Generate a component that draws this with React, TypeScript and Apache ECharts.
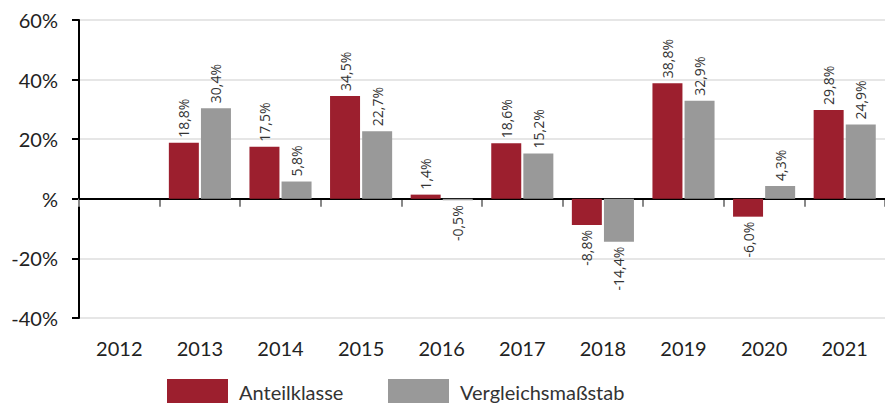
import React, { useEffect, useRef } from "react";
import * as echarts from "echarts";

const years = ["2012", "2013", "2014", "2015", "2016", "2017", "2018", "2019", "2020", "2021"];
const anteilklasse: (number | null)[] = [null, 18.8, 17.5, 34.5, 1.4, 18.6, -8.8, 38.8, -6.0, 29.8];
const vergleich: (number | null)[] = [null, 30.4, 5.8, 22.7, -0.5, 15.2, -14.4, 32.9, 4.3, 24.9];
const seriesNames = ["Anteilklasse", "Vergleichsmaßstab"];
const colors = ["#9c1f2e", "#999999"];

const fmt = (v: number) => v.toFixed(1).replace(".", ",") + "%";

function toData(arr: (number | null)[]) {
  return arr.map((v) => {
    if (v === null) return { value: null };
    if (v < 0) {
      return { value: v, label: { position: "bottom", align: "right" } };
    }
    return { value: v };
  });
}

export default function App() {
  const ref = useRef<HTMLDivElement>(null);
  useEffect(() => {
    if (!ref.current) return;
    const chart = echarts.init(ref.current, undefined, { renderer: "svg" });
    const labelCfg = {
      show: true,
      position: "top",
      rotate: 90,
      align: "left",
      verticalAlign: "middle",
      distance: 5,
      fontFamily: "Open Sans",
      fontSize: 14,
      color: "#333",
      formatter: (p: any) => (p.value === null || p.value === undefined ? "" : fmt(p.value)),
    };
    const legendBase = {
      top: 379,
      padding: 0,
      icon: "rect",
      itemWidth: 61,
      itemHeight: 26,
      itemGap: 0,
      textStyle: { fontFamily: "Lato", fontSize: 20, color: "#333", padding: [0, 0, 0, 6] },
    };
    chart.setOption({
      animation: false,
      textStyle: { fontFamily: "Lato" },
      grid: { left: 79, right: -4, top: 20, bottom: 85, containLabel: false },
      legend: [
        { ...legendBase, data: [seriesNames[0]], left: 167 },
        { ...legendBase, data: [seriesNames[1]], left: 388 },
      ],
      xAxis: {
        type: "category",
        data: years,
        boundaryGap: true,
        axisLine: { show: true, lineStyle: { color: "#888", width: 2 } },
        axisTick: { show: true, interval: 0, length: 8, lineStyle: { color: "#888", width: 2 } },
        axisLabel: { interval: 0, margin: 20, fontFamily: "Lato", fontSize: 20, color: "#222" },
        splitLine: { show: false },
      },
      yAxis: {
        type: "value",
        min: -40,
        max: 60,
        interval: 20,
        axisLine: { show: true, lineStyle: { color: "#000", width: 2 } },
        axisTick: { show: true, length: 7, lineStyle: { color: "#000", width: 2 } },
        axisLabel: {
          margin: 21,
          fontFamily: "Lato",
          fontSize: 20,
          color: "#222",
          formatter: (v: number) => (v === 0 ? "%" : v + "%"),
        },
        splitLine: { show: true, lineStyle: { color: "#e6e6e6", width: 2 } },
      },
      series: [
        {
          name: seriesNames[0],
          type: "bar",
          data: toData(anteilklasse),
          barWidth: 30,
          barGap: "7%",
          itemStyle: { color: colors[0] },
          label: labelCfg,
          z: 3,
          markLine: {
            silent: true,
            symbol: ["none", "none"],
            label: { show: false },
            lineStyle: { color: "#000", width: 2, type: "solid" },
            data: [{ yAxis: 0 }],
            z: 1,
          },
        },
        {
          name: seriesNames[1],
          type: "bar",
          data: toData(vergleich),
          barWidth: 30,
          barGap: "7%",
          itemStyle: { color: colors[1] },
          label: labelCfg,
          z: 3,
        },
      ],
    });
    return () => chart.dispose();
  }, []);
  return (
    <div
      ref={ref}
      style={{ position: "fixed", left: 0, top: 0, width: 885, height: 403, background: "#fff" }}
    />
  );
}
